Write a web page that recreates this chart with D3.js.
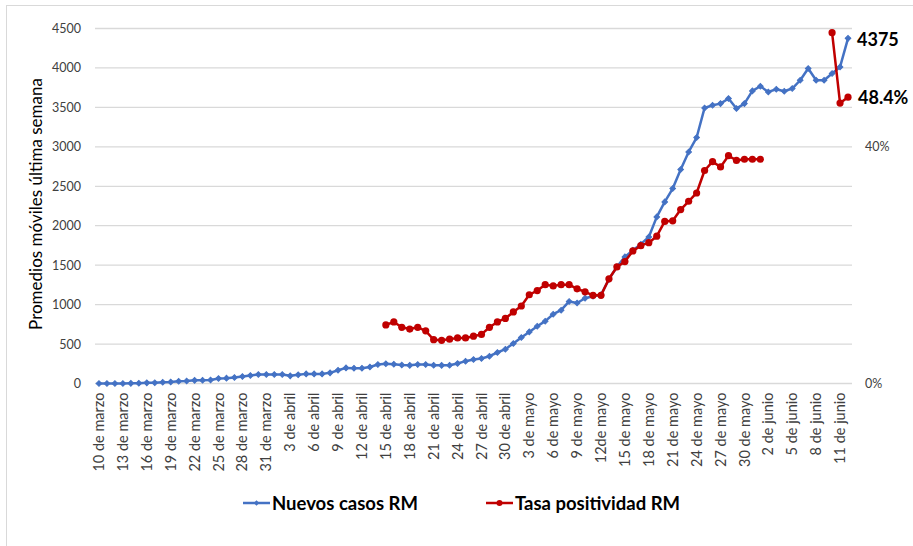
<!DOCTYPE html>
<html>
<head>
<meta charset="utf-8">
<script src="https://cdn.jsdelivr.net/npm/d3@7"></script>
<style>
  body { margin: 0; background: #fff; }
  text { font-family: Lato, "Open Sans", sans-serif; }
</style>
</head>
<body>
<div id="my_dataviz"></div>
<script>
// categories: one per day, 10 de marzo .. 12 de junio
var dias = d3.timeDay.range(new Date(2020, 2, 10), new Date(2020, 5, 13));

// tick labels, one every 3 days
var xTickLabels = ["10 de marzo","13 de marzo","16 de marzo","19 de marzo","22 de marzo","25 de marzo",
  "28 de marzo","31 de marzo","3 de abril","6 de abril","9 de abril","12 de abril","15 de abril",
  "18 de abril","21 de abril","24 de abril","27 de abril","30 de abril","3 de mayo","6 de mayo",
  "9 de mayo","12de mayo","15 de mayo","18 de mayo","21 de mayo","24 de mayo","27 de mayo",
  "30 de mayo","2 de junio","5 de junio","8 de junio","11 de junio"];

var yTicks = [0, 500, 1000, 1500, 2000, 2500, 3000, 3500, 4000, 4500];
var y2Ticks = [0, 40];

// Nuevos casos RM (promedio movil 7 dias)
var nuevosCasos = [0,0,0,0,2,4,8,10,16,20,28,32,40,42,45,63,68,76,88,101,
  114,114,114,114,97,110,122,122,122,135,168,198,194,194,210,240,250,245,235,230,
  240,240,232,230,232,253,283,304,317,346,393,435,507,583,654,726,790,878,929,1040,
  1020,1080,1105,1125,1320,1480,1605,1690,1766,1858,2112,2302,2471,2712,2935,3118,3493,3527,3548,3612,
  3485,3548,3709,3768,3696,3730,3705,3739,3844,3993,3844,3844,3929,4013,4375];

// Tasa positividad RM (%)
var tasaPositividad = [null,null,null,null,null,null,null,null,null,null,
  null,null,null,null,null,null,null,null,null,null,
  null,null,null,null,null,null,null,null,null,null,
  null,null,null,null,null,null,9.9,10.4,9.5,9.2,
  9.5,8.9,7.4,7.3,7.5,7.7,7.7,8.0,8.3,9.5,
  10.4,11.0,12.1,13.1,15.0,15.7,16.7,16.5,16.7,16.7,
  16.0,15.5,14.9,14.9,17.7,19.7,20.6,22.4,23.3,23.8,
  24.9,27.4,27.5,29.4,30.8,32.2,36.0,37.5,36.6,38.5,
  37.7,37.9,37.9,37.9,null,null,null,null,null,null,
  null,null,59.3,47.4,48.4];

var blue = "#4472C4", red = "#C00000";

var W = 913, H = 546;

var svg = d3.select("#my_dataviz")
  .append("svg")
    .attr("width", W)
    .attr("height", H);

// chart border
svg.append("rect")
  .attr("x", 6.5).attr("y", 5.5)
  .attr("width", 940).attr("height", 600)
  .style("fill", "none")
  .style("stroke", "#d9d9d9");

// scales
var x = d3.scaleBand()
  .domain(dias)
  .range([95, 852]);
var cx = function(d) { return x(d) + x.bandwidth() / 2; };

var y = d3.scaleLinear()
  .domain([0, 4500])
  .range([383.5, 28.5]);

var y2 = d3.scaleLinear()
  .domain([0, 60])
  .range([383.5, 28.5]);

// gridlines
svg.append("g")
  .selectAll("line")
  .data(yTicks)
  .enter()
  .append("line")
    .attr("x1", 95).attr("x2", 852)
    .attr("y1", function(d) { return y(d); })
    .attr("y2", function(d) { return y(d); })
    .style("stroke", "#d9d9d9")
    .style("stroke-width", 1.3);

// left axis
var yAxis = svg.append("g")
  .attr("transform", "translate(95,0)")
  .call(d3.axisLeft(y).tickValues(yTicks).tickSize(0).tickPadding(14).tickFormat(d3.format("d")));
yAxis.select(".domain").remove();
yAxis.selectAll("text")
  .style("font-size", "12.5px")
  .style("fill", "#404040");

// right axis
var y2Axis = svg.append("g")
  .attr("transform", "translate(852,0)")
  .call(d3.axisRight(y2).tickValues(y2Ticks).tickSize(0).tickPadding(13)
    .tickFormat(function(d) { return d + "%"; }));
y2Axis.select(".domain").remove();
y2Axis.selectAll("text")
  .style("font-size", "12.5px")
  .style("fill", "#404040");

// x axis
var tickDias = dias.filter(function(d, i) { return i % 3 == 0; });
var xAxis = svg.append("g")
  .attr("transform", "translate(0,383.5)")
  .call(d3.axisBottom(x).tickValues(tickDias).tickSize(0)
    .tickFormat(function(d, i) { return xTickLabels[i]; }));
xAxis.select(".domain").remove();
xAxis.selectAll("text")
  .attr("transform", "rotate(-90)")
  .attr("x", -9)
  .attr("y", 0)
  .attr("dy", "0.35em")
  .attr("text-anchor", "end")
  .style("font-size", "14.5px")
  .style("fill", "#404040");

// y axis title
svg.append("text")
  .attr("text-anchor", "middle")
  .attr("transform", "translate(42,204) rotate(-90)")
  .style("font-size", "17px")
  .style("fill", "#000")
  .text("Promedios móviles última semana");

// blue line + diamonds
var blueLine = d3.line()
  .x(function(d, i) { return cx(dias[i]); })
  .y(function(d) { return y(d); });

svg.append("path")
  .datum(nuevosCasos)
  .attr("d", blueLine)
  .style("fill", "none")
  .style("stroke", blue)
  .style("stroke-width", 2.5)
  .style("stroke-linejoin", "round");

var diamond = d3.symbol(d3.symbolSquare, 16);
svg.append("g")
  .selectAll("path")
  .data(nuevosCasos)
  .enter()
  .append("path")
    .attr("d", diamond)
    .attr("transform", function(d, i) { return "translate(" + cx(dias[i]) + "," + y(d) + ") rotate(45)"; })
    .style("fill", blue)
    .style("stroke", blue)
    .style("stroke-width", 1);

// red line + circles
var redLine = d3.line()
  .defined(function(d) { return d !== null; })
  .x(function(d, i) { return cx(dias[i]); })
  .y(function(d) { return y2(d); });

svg.append("path")
  .datum(tasaPositividad)
  .attr("d", redLine)
  .style("fill", "none")
  .style("stroke", red)
  .style("stroke-width", 2.5)
  .style("stroke-linejoin", "round");

var redPts = tasaPositividad
  .map(function(d, i) { return {v: d, i: i}; })
  .filter(function(d) { return d.v !== null; });

svg.append("g")
  .selectAll("circle")
  .data(redPts)
  .enter()
  .append("circle")
    .attr("cx", function(d) { return cx(dias[d.i]); })
    .attr("cy", function(d) { return y2(d.v); })
    .attr("r", 3.6)
    .style("fill", red);

// end labels
var lastI = nuevosCasos.length - 1;
svg.append("text")
  .attr("x", 857)
  .attr("y", y(nuevosCasos[lastI]) + 8)
  .style("font-size", "18px")
  .style("font-weight", "bold")
  .style("fill", "#000")
  .text(nuevosCasos[lastI]);

svg.append("text")
  .attr("x", 858)
  .attr("y", y2(tasaPositividad[lastI]) + 7)
  .style("font-size", "18px")
  .style("font-weight", "bold")
  .style("fill", "#000")
  .text(tasaPositividad[lastI].toFixed(1) + "%");

// legend
var legend = [
  {name: "Nuevos casos RM", color: blue, x: 243, marker: "diamond"},
  {name: "Tasa positividad RM", color: red, x: 486, marker: "circle"}
];
var ly = 503;
legend.forEach(function(l) {
  svg.append("line")
    .attr("x1", l.x).attr("x2", l.x + 27)
    .attr("y1", ly).attr("y2", ly)
    .style("stroke", l.color)
    .style("stroke-width", 2.5);
  if (l.marker == "diamond") {
    svg.append("path")
      .attr("d", diamond)
      .attr("transform", "translate(" + (l.x + 13.5) + "," + ly + ") rotate(45)")
      .style("fill", l.color);
  } else {
    svg.append("circle")
      .attr("cx", l.x + 13.5).attr("cy", ly)
      .attr("r", 3)
      .style("fill", l.color);
  }
  svg.append("text")
    .attr("x", l.x + 29)
    .attr("y", ly)
    .attr("dy", "0.36em")
    .style("font-size", "18.5px")
    .style("font-weight", "bold")
    .style("fill", "#000")
    .text(l.name);
});
</script>
</body>
</html>
